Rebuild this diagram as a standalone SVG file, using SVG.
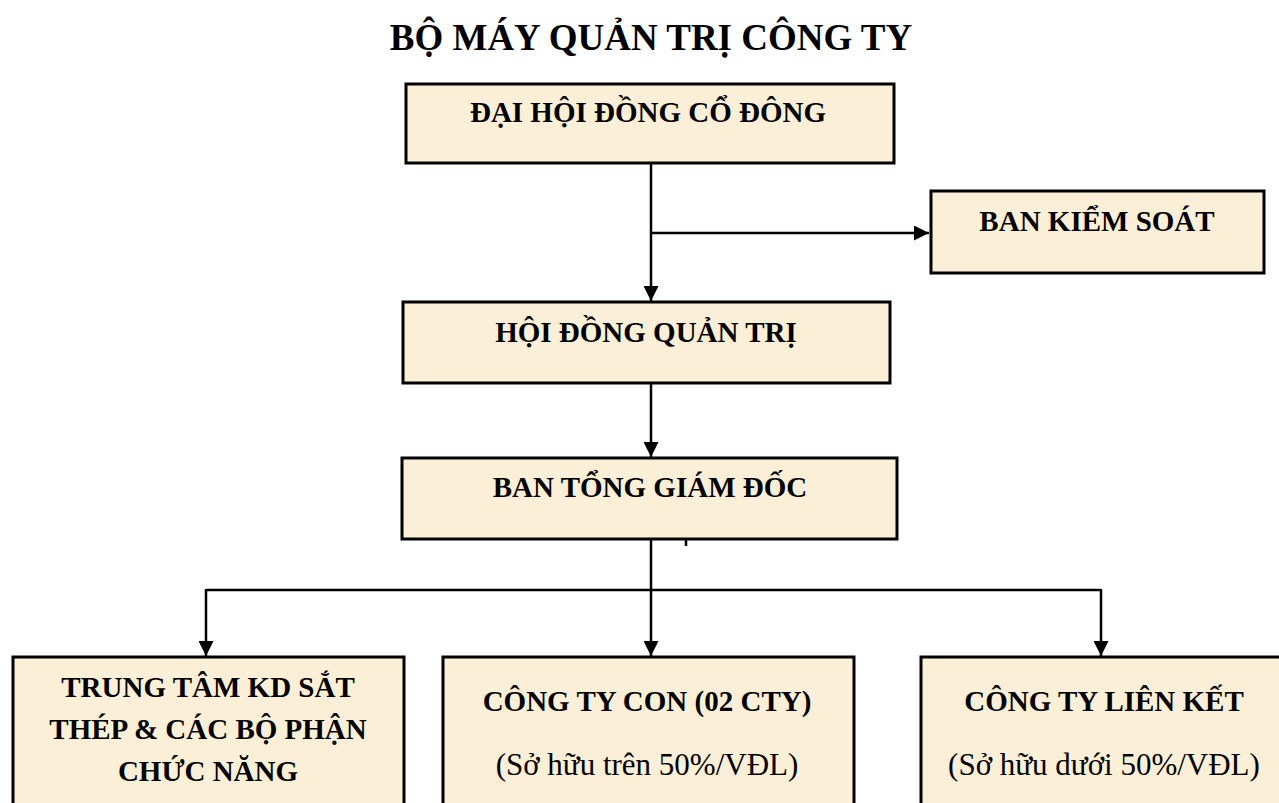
<svg xmlns="http://www.w3.org/2000/svg" width="1279" height="803" viewBox="0 0 1279 803">
<style>
.box{fill:#FCEFD7;stroke:#000;stroke-width:3}
.t{font-family:"Liberation Serif","Times New Roman",serif;font-weight:bold;font-size:29px;fill:#000;text-anchor:middle}
.r{font-family:"Liberation Serif","Times New Roman",serif;font-size:31px;fill:#000;text-anchor:middle}
.title{font-family:"Liberation Serif","Times New Roman",serif;font-weight:bold;font-size:37px;fill:#000;text-anchor:middle}
.c{stroke:#000;stroke-width:2.5;fill:none}
</style>
<defs>
<marker id="ah" viewBox="0 0 10 10" refX="10" refY="5" markerWidth="6" markerHeight="6" markerUnits="strokeWidth" orient="auto">
<path d="M0,0 L10,5 L0,10 Z" fill="#000"/>
</marker>
</defs>
<rect width="1279" height="803" fill="#fff"/>
<text class="title" x="651" y="50">BỘ MÁY QUẢN TRỊ CÔNG TY</text>
<g id="connectors">
<line class="c" x1="651" y1="163" x2="651" y2="301" marker-end="url(#ah)"/>
<line class="c" x1="651" y1="233" x2="929" y2="233" marker-end="url(#ah)"/>
<line class="c" x1="651" y1="383" x2="651" y2="457" marker-end="url(#ah)"/>
<line class="c" x1="651" y1="539" x2="651" y2="656" marker-end="url(#ah)"/>
<line class="c" x1="206" y1="590" x2="1101" y2="590"/>
<line class="c" x1="206" y1="589" x2="206" y2="656" marker-end="url(#ah)"/>
<line class="c" x1="1101" y1="589" x2="1101" y2="656" marker-end="url(#ah)"/>
<line class="c" x1="686" y1="539" x2="686" y2="546" stroke-width="1.5"/>
</g>
<g id="dhdcd">
<rect class="box" x="406" y="84" width="488" height="79"/>
<text class="t" x="648" y="122">ĐẠI HỘI ĐỒNG CỔ ĐÔNG</text>
</g>
<g id="bks">
<rect class="box" x="931" y="191" width="333" height="82"/>
<text class="t" x="1097" y="231">BAN KIỂM SOÁT</text>
</g>
<g id="hdqt">
<rect class="box" x="403" y="302" width="487" height="81"/>
<text class="t" x="646" y="342">HỘI ĐỒNG QUẢN TRỊ</text>
</g>
<g id="btgd">
<rect class="box" x="402" y="458" width="495" height="81"/>
<text class="t" x="650" y="497">BAN TỔNG GIÁM ĐỐC</text>
</g>
<g id="trungtam">
<rect class="box" x="13" y="657" width="391" height="160"/>
<text class="t" x="208" y="697">TRUNG TÂM KD SẮT</text>
<text class="t" x="208" y="739">THÉP &amp; CÁC BỘ PHẬN</text>
<text class="t" x="208" y="781">CHỨC NĂNG</text>
</g>
<g id="congtycon">
<rect class="box" x="443" y="657" width="411" height="160"/>
<text class="t" x="647" y="711">CÔNG TY CON (02 CTY)</text>
<text class="r" x="647" y="775">(Sở hữu trên 50%/VĐL)</text>
</g>
<g id="lienket">
<rect class="box" x="921" y="657" width="370" height="160"/>
<text class="t" x="1104" y="711">CÔNG TY LIÊN KẾT</text>
<text class="r" x="1104" y="775">(Sở hữu dưới 50%/VĐL)</text>
</g>
</svg>
